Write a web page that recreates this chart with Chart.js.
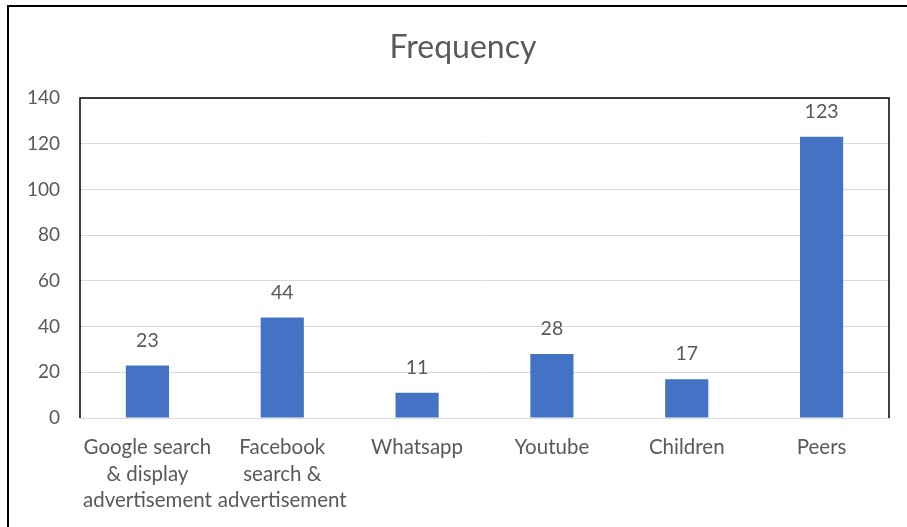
<!DOCTYPE html>
<html>
<head>
<meta charset="utf-8">
<script src="https://cdn.jsdelivr.net/npm/chart.js@4.4.1/dist/chart.umd.min.js"></script>
<style>
html,body{margin:0;padding:0;background:#fff;}
#wrap{position:relative;width:907px;height:527px;}
#frameTop{position:absolute;left:7px;top:5px;width:900px;height:2px;background:#000;}
#frameLeft{position:absolute;left:7px;top:5px;width:2px;height:522px;background:#000;}
canvas{position:absolute;left:0;top:0;}
</style>
</head>
<body>
<div id="wrap">
<canvas id="c" width="907" height="527"></canvas>
<div id="frameTop"></div>
<div id="frameLeft"></div>
</div>
<script>
const categories = [
  ["Google search", "& display", "advertisement"],
  ["Facebook", "search &", "advertisement"],
  "Whatsapp",
  "Youtube",
  "Children",
  "Peers"
];
const frequency = [23, 44, 11, 28, 17, 123];
const yTicks = [0, 20, 40, 60, 80, 100, 120, 140];
const chartTitle = "Frequency";

const FONT = "Lato, 'Open Sans', sans-serif";
const TXT = "#595959";

const decor = {
  id: "decor",
  afterDatasetsDraw(chart) {
    const ctx = chart.ctx;
    const a = chart.chartArea;
    ctx.save();
    ctx.strokeStyle = "#000";
    ctx.lineWidth = 1.5;
    ctx.beginPath();
    ctx.moveTo(a.left, a.bottom);
    ctx.lineTo(a.left, a.top);
    ctx.lineTo(a.right, a.top);
    ctx.lineTo(a.right, a.bottom);
    ctx.stroke();
    ctx.fillStyle = TXT;
    ctx.font = "19.5px " + FONT;
    ctx.textAlign = "center";
    ctx.textBaseline = "middle";
    const meta = chart.getDatasetMeta(0);
    meta.data.forEach((bar, i) => {
      ctx.fillText(String(frequency[i]), bar.x, bar.y - 25);
    });
    ctx.font = "32px " + FONT;
    ctx.fillText(chartTitle, 463, 48);
    ctx.restore();
  }
};

new Chart(document.getElementById("c"), {
  type: "bar",
  data: {
    labels: categories,
    datasets: [{
      data: frequency,
      backgroundColor: "#4472C4",
      borderWidth: 0,
      barPercentage: 0.64,
      categoryPercentage: 0.5
    }]
  },
  options: {
    responsive: false,
    animation: false,
    devicePixelRatio: 1,
    layout: { padding: { top: 98, right: 18, left: 0, bottom: 0 } },
    plugins: { legend: { display: false }, title: { display: false }, tooltip: { enabled: false } },
    scales: {
      x: {
        grid: { display: false, drawTicks: false },
        border: { display: true, color: "#d9d9d9", width: 1 },
        ticks: {
          color: TXT,
          font: { family: FONT, size: 20.5, lineHeight: 1.3 },
          maxRotation: 0,
          minRotation: 0,
          autoSkip: false,
          padding: 16
        },
        afterFit(s) { s.height = 109; }
      },
      y: {
        min: 0,
        max: 140,
        afterBuildTicks(s) { s.ticks = yTicks.map(v => ({ value: v })); },
        grid: { color: "#d9d9d9", lineWidth: 1, drawTicks: false },
        border: { display: false },
        ticks: {
          color: TXT,
          font: { family: FONT, size: 19 },
          padding: 20
        },
        afterFit(s) { s.width = 80; }
      }
    }
  },
  plugins: [decor]
});
</script>
</body>
</html>
